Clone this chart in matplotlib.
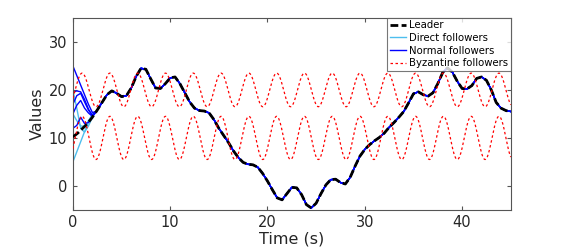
import numpy as np
import matplotlib
matplotlib.use("Agg")
import matplotlib.pyplot as plt

plt.rcParams['font.family'] = ['DejaVu Sans']

leader_t = np.arange(0, 45.01, 0.5)
leader_v = [10.2, 11.0, 12.0, 13.0, 14.3, 15.8, 17.4, 19.0, 19.8, 19.3,
            18.6, 18.8, 20.4, 22.8, 24.5, 24.3, 22.3, 20.4, 20.3, 21.3,
            22.5, 22.7, 21.3, 19.4, 17.5, 16.2, 15.7, 15.6, 15.2, 13.8,
            12.0, 10.5, 9.0, 7.3, 5.9, 4.9, 4.5, 4.4, 3.9, 2.6,
            1.0, -0.8, -2.5, -2.9, -1.6, -0.3, -0.4, -1.8, -3.9, -4.6,
            -3.6, -1.6, 0.2, 1.3, 1.4, 0.7, 0.4, 1.8, 4.1, 6.2,
            7.6, 8.6, 9.4, 10.1, 11.0, 12.2, 13.2, 14.3, 15.5, 17.3,
            19.2, 19.6, 19.0, 18.7, 19.4, 21.3, 23.6, 24.6, 23.7, 21.8,
            20.3, 20.2, 20.9, 22.4, 22.7, 22.0, 20.0, 17.4, 16.2, 15.7,
            15.5]

# Follower transients before they join the leader
trans_t = [0, 0.4, 0.8, 1.2, 1.6, 2.0, 2.4]
normal_followers = [
    [25.0, 23.0, 21.0, 19.0, 17.0, 15.3, 15.5],
    [19.5, 19.8, 19.6, 18.0, 16.0, 14.6, 15.5],
    [17.0, 18.8, 19.3, 17.5, 15.8, 14.8, 15.5],
    [15.0, 16.8, 17.8, 16.2, 15.2, 14.5, 15.5],
    [12.0, 12.6, 14.3, 13.0, 13.2, 14.4, 15.5],
]
direct_followers = [
    [5.0, 7.1, 9.2, 11.3, 13.3, 15.0, 15.5],
    [20.0, 16.2, 12.0, 11.2, 12.5, 14.3, 15.5],
    [15.0, 13.6, 12.5, 12.4, 13.6, 14.8, 15.5],
]

# Byzantine followers: sinusoidal attack signals (parameters)
byz_centers = [20.0, 10.0]
byz_amps = [3.5, 4.5]
byz_period = 2.856
byz_peak_time = 0.95

x_ticks = [0, 10, 20, 30, 40]
y_ticks = [0, 10, 20, 30]

fig = plt.figure(figsize=(5.65, 2.49), dpi=100)
ax = fig.add_axes([0.129, 0.157, 0.775, 0.771])

lt = np.array(leader_t)
lv = np.array(leader_v)
mask = lt >= 2.5

def follower_series(tr):
    t = np.concatenate([trans_t, lt[mask]])
    v = np.concatenate([tr, lv[mask]])
    return t, v

c_direct = '#4DBEEE'
c_normal = '#0000FF'

for i, tr in enumerate(direct_followers):
    t, v = follower_series(tr)
    ax.plot(t, v, color=c_direct, lw=1.0, label='Direct followers' if i == 0 else None, zorder=2)
for i, tr in enumerate(normal_followers):
    t, v = follower_series(tr)
    ax.plot(t, v, color=c_normal, lw=1.0, label='Normal followers' if i == 0 else None, zorder=2)

ax.plot(lt, lv, color='black', lw=2.0, linestyle=(0, (2.8, 1.2)), label='Leader', zorder=3)

tb = np.linspace(0, 45, 1500)
for i, (c, a) in enumerate(zip(byz_centers, byz_amps)):
    ax.plot(tb, c + a * np.cos(2 * np.pi * (tb - byz_peak_time) / byz_period),
            color='#FF0000', lw=0.9, linestyle=(0, (2, 2)),
            label='Byzantine followers' if i == 0 else None, zorder=4)

ax.set_xlim(0, 45)
ax.set_ylim(-5, 35)
ax.set_xticks(x_ticks)
ax.set_yticks(y_ticks)
ax.tick_params(direction='in', top=True, right=True, labelsize=10.5, length=3,
               color='#555555', labelcolor='#262626', pad=4)
for s in ax.spines.values():
    s.set_color('#555555')
    s.set_linewidth(0.8)
ax.set_xlabel('Time (s)', fontsize=11.5, color='#262626', labelpad=1)
ax.set_ylabel('Values', fontsize=11.5, color='#262626', labelpad=3)

handles, labels = ax.get_legend_handles_labels()
order = [labels.index(l) for l in ['Leader', 'Direct followers', 'Normal followers', 'Byzantine followers']]
leg = ax.legend([handles[i] for i in order], [labels[i] for i in order],
                loc='upper right', bbox_to_anchor=(1.0, 1.0), fontsize=7.3,
                frameon=True, fancybox=False, edgecolor='#555555',
                borderpad=0.25, labelspacing=0.25, handlelength=1.6, handletextpad=0.3,
                borderaxespad=0.0)
leg.get_frame().set_linewidth(0.8)

fig.savefig('out.png', dpi=100)
